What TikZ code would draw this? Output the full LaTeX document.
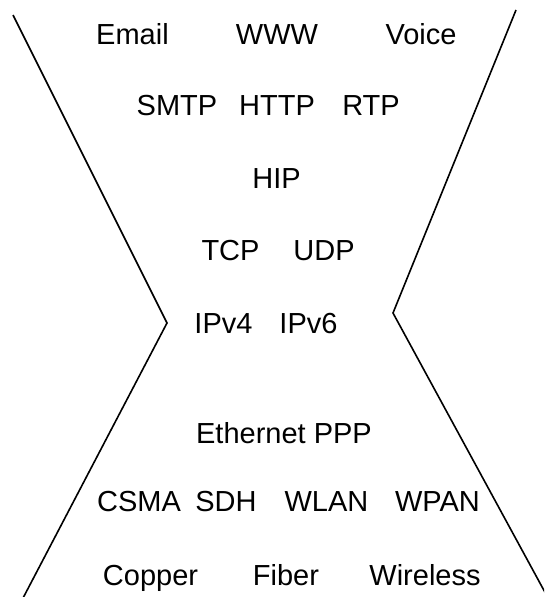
\documentclass[tikz,border=0pt]{standalone}
\usepackage{fontspec}
\setmainfont{Liberation Sans}
\begin{document}
\begin{tikzpicture}[x=1pt,y=-1pt,
  lbl/.style={anchor=base,inner sep=0pt,font=\fontsize{29}{34}\selectfont},
  edge/.style={line width=1.6pt,line join=miter}]
\useasboundingbox (0,0) rectangle (544,597);
\begin{scope}
\clip (0,0) rectangle (544,597);
\coordinate (lt) at (13,15);
\coordinate (lm) at (167,323);
\coordinate (lb) at (22,600);
\coordinate (rt) at (516,10);
\coordinate (rm) at (393,313);
\coordinate (rb) at (547,596);
\draw[edge] (lt) -- (lm) -- (lb);
\draw[edge] (rt) -- (rm) -- (rb);
\end{scope}
\node[lbl] (email) at (132.5,44) {Email};
\node[lbl] (www) at (277,44) {WWW};
\node[lbl] (voice) at (421,44) {Voice};
\node[lbl] (smtp) at (177,115) {SMTP};
\node[lbl] (http) at (277,115) {HTTP};
\node[lbl] (rtp) at (371,115) {RTP};
\node[lbl] (hip) at (276.5,188) {HIP};
\node[lbl] (tcp) at (230.5,260) {TCP};
\node[lbl] (udp) at (324,260) {UDP};
\node[lbl] (ipv4) at (223.5,333) {IPv4};
\node[lbl] (ipv6) at (308.5,333) {IPv6};
\node[lbl] (eth) at (284,443) {Ethernet PPP};
\node[lbl] (csma) at (139,511) {CSMA};
\node[lbl] (sdh) at (226,511) {SDH};
\node[lbl] (wlan) at (326.5,511) {WLAN};
\node[lbl] (wpan) at (437.5,511) {WPAN};
\node[lbl] (copper) at (150.5,585) {Copper};
\node[lbl] (fiber) at (286,585) {Fiber};
\node[lbl] (wireless) at (425,585) {Wireless};
\end{tikzpicture}
\end{document}
